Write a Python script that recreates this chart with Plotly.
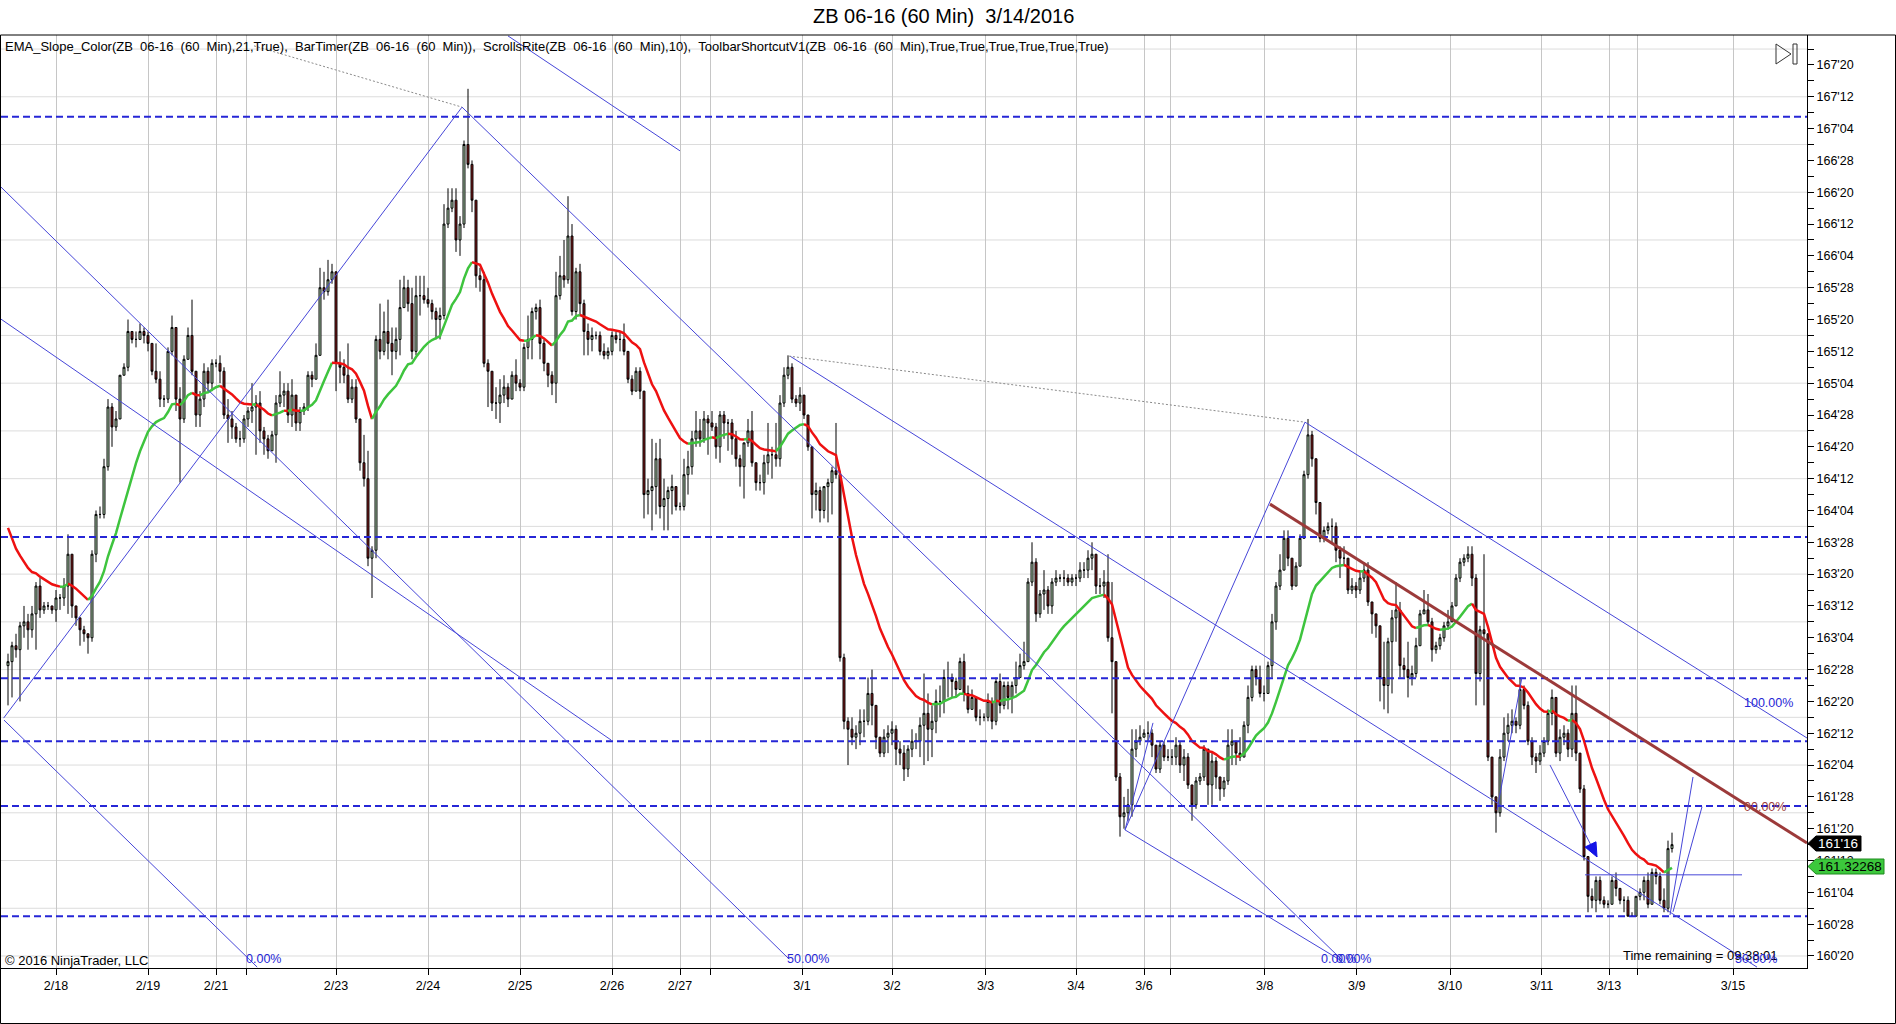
import plotly.graph_objects as go

# ZB 06-16, 60 minute bars (2/17 evening to 3/14 midday)
# prices are kept in 32nds above 160'00, e.g. 48 -> 161'16
closes = [
    94, 98, 97, 103, 104, 102, 106, 113, 107, 108, 108, 107, 110, 110, 113, 121, 108, 105, 102, 101,
    100, 121, 131, 131, 143, 158, 153, 155, 166, 168, 177, 175, 175, 177, 176, 174, 167, 165, 160, 160,
    172, 178, 160, 155, 170, 176, 167, 156, 160, 167, 164, 169, 169, 167, 156, 155, 153, 150, 150, 155,
    157, 158, 159, 152, 150, 147, 151, 159, 161, 162, 156, 161, 154, 157, 158, 166, 165, 171, 188, 187,
    190, 192, 169, 168, 166, 160, 163, 155, 144, 140, 120, 122, 175, 172, 177, 174, 172, 175, 183, 188,
    184, 172, 186, 186, 185, 184, 182, 180, 181, 204, 208, 210, 200, 204, 224, 219, 210, 191, 190, 169,
    167, 159, 159, 161, 163, 160, 166, 164, 163, 173, 175, 182, 183, 174, 169, 166, 164, 186, 191, 190,
    201, 182, 192, 184, 177, 175, 176, 176, 172, 171, 172, 176, 175, 175, 172, 165, 162, 167, 162, 136,
    137, 138, 145, 133, 135, 137, 138, 133, 133, 141, 143, 150, 152, 150, 155, 154, 153, 148, 156, 154,
    154, 150, 145, 143, 149, 152, 144, 139, 139, 144, 146, 146, 145, 159, 166, 168, 160, 159, 161, 156,
    148, 136, 137, 132, 138, 139, 142, 141, 95, 79, 77, 75, 76, 79, 79, 86, 83, 75, 71, 75,
    76, 77, 72, 71, 67, 72, 74, 74, 78, 81, 77, 79, 84, 84, 90, 90, 89, 87, 94, 86,
    82, 85, 80, 80, 80, 84, 79, 89, 83, 88, 85, 88, 90, 93, 94, 114, 119, 106, 111, 112,
    108, 114, 115, 115, 115, 114, 115, 115, 117, 117, 120, 121, 113, 113, 114, 100, 94, 65, 55, 56,
    58, 72, 74, 75, 76, 76, 73, 67, 73, 70, 70, 70, 73, 68, 70, 63, 58, 64, 65, 72,
    63, 69, 65, 62, 64, 73, 74, 71, 70, 78, 85, 92, 90, 86, 86, 93, 104, 113, 117, 125,
    120, 113, 118, 125, 141, 151, 145, 134, 125, 127, 128, 128, 122, 120, 120, 112, 113, 112, 115, 117,
    109, 106, 103, 90, 88, 99, 105, 107, 93, 92, 90, 91, 98, 106, 107, 104, 97, 98, 100, 103,
    104, 108, 115, 119, 120, 121, 115, 91, 102, 101, 70, 60, 56, 70, 76, 78, 79, 78, 87, 83,
    74, 70, 69, 71, 74, 81, 85, 71, 75, 76, 72, 81, 71, 62, 45, 35, 34, 39, 34, 33,
    33, 39, 37, 34, 34, 30, 30, 35, 36, 39, 33, 41, 40, 34, 32, 47, 48,
]
highs = [
    96, 99, 101, 104, 108, 106, 108, 114, 115, 109, 109, 108, 112, 111, 115, 126, 121, 108, 105, 103,
    101, 122, 132, 133, 145, 160, 159, 157, 166, 169, 180, 177, 177, 179, 178, 177, 174, 174, 167, 161,
    173, 181, 178, 163, 171, 178, 185, 167, 162, 169, 168, 170, 170, 171, 168, 160, 157, 154, 152, 156,
    158, 164, 161, 162, 153, 151, 152, 161, 167, 164, 164, 165, 160, 158, 159, 167, 167, 174, 193, 192,
    195, 194, 192, 172, 170, 174, 165, 165, 155, 151, 147, 123, 176, 184, 182, 185, 178, 178, 190, 191,
    190, 188, 191, 191, 191, 188, 185, 183, 183, 209, 213, 213, 213, 206, 225, 238, 220, 209, 193, 192,
    170, 167, 163, 165, 166, 164, 167, 170, 165, 174, 181, 183, 184, 185, 175, 169, 167, 192, 196, 200,
    211, 204, 193, 194, 185, 179, 178, 177, 177, 174, 173, 177, 177, 177, 179, 172, 166, 168, 168, 162,
    140, 150, 149, 150, 140, 138, 141, 137, 134, 145, 147, 152, 157, 155, 157, 156, 157, 154, 157, 157,
    155, 155, 152, 146, 149, 155, 157, 144, 141, 146, 154, 148, 154, 161, 168, 171, 169, 161, 163, 161,
    156, 148, 139, 138, 138, 140, 143, 154, 142, 96, 80, 80, 78, 82, 82, 90, 92, 83, 75, 77,
    78, 79, 78, 74, 73, 73, 77, 76, 80, 91, 86, 83, 87, 88, 92, 94, 91, 90, 95, 96,
    88, 87, 84, 82, 81, 86, 85, 90, 91, 89, 89, 89, 94, 96, 99, 115, 124, 120, 112, 117,
    113, 115, 117, 116, 117, 116, 116, 116, 119, 119, 122, 124, 121, 115, 117, 121, 114, 94, 66, 60,
    62, 77, 77, 78, 77, 79, 77, 73, 74, 74, 72, 72, 75, 74, 72, 71, 63, 65, 66, 73,
    72, 71, 70, 65, 65, 77, 77, 73, 75, 79, 88, 93, 93, 93, 88, 94, 106, 114, 121, 127,
    127, 120, 119, 126, 142, 155, 152, 143, 134, 128, 129, 130, 129, 123, 123, 120, 115, 114, 117, 119,
    119, 108, 106, 101, 99, 100, 107, 114, 109, 95, 99, 93, 100, 107, 112, 111, 105, 99, 101, 104,
    107, 109, 116, 120, 121, 123, 123, 116, 103, 121, 101, 70, 59, 72, 80, 81, 82, 80, 90, 88,
    84, 75, 71, 73, 75, 82, 87, 85, 77, 78, 77, 88, 88, 71, 63, 45, 37, 40, 40, 35,
    34, 40, 41, 37, 35, 35, 31, 35, 37, 40, 41, 42, 42, 41, 37, 49, 51,
]
lows = [
    83, 85, 95, 84, 100, 97, 100, 97, 105, 106, 107, 106, 104, 107, 108, 106, 105, 103, 98, 99,
    96, 99, 119, 130, 130, 142, 148, 152, 157, 166, 167, 174, 173, 175, 174, 172, 166, 164, 158, 158,
    159, 171, 157, 139, 154, 170, 166, 153, 153, 158, 162, 162, 168, 164, 155, 149, 150, 149, 148, 149,
    153, 154, 146, 149, 146, 145, 147, 144, 158, 158, 154, 153, 152, 152, 156, 157, 163, 165, 171, 185,
    186, 189, 162, 164, 164, 159, 159, 154, 142, 138, 118, 110, 120, 170, 171, 170, 166, 170, 171, 183,
    182, 170, 171, 181, 184, 183, 180, 175, 175, 180, 203, 207, 197, 196, 203, 218, 207, 188, 187, 168,
    158, 157, 155, 154, 159, 158, 160, 162, 162, 162, 170, 170, 180, 170, 167, 163, 161, 159, 185, 188,
    189, 181, 180, 181, 171, 171, 172, 175, 171, 170, 170, 171, 174, 172, 171, 164, 161, 162, 160, 130,
    131, 127, 131, 130, 127, 127, 131, 132, 132, 132, 136, 141, 148, 148, 149, 146, 152, 145, 144, 150,
    147, 146, 143, 138, 135, 148, 143, 137, 137, 136, 141, 140, 143, 143, 158, 165, 159, 158, 157, 155,
    147, 130, 132, 129, 130, 129, 131, 140, 94, 77, 68, 73, 72, 73, 75, 78, 78, 72, 70, 70,
    71, 73, 68, 68, 64, 65, 70, 72, 70, 68, 69, 70, 76, 80, 81, 85, 85, 85, 87, 84,
    81, 82, 79, 78, 79, 79, 77, 78, 81, 82, 82, 81, 86, 91, 92, 94, 113, 104, 105, 107,
    106, 106, 113, 114, 113, 113, 113, 113, 114, 115, 115, 117, 111, 111, 110, 99, 81, 64, 50, 52,
    54, 55, 70, 73, 75, 74, 70, 66, 66, 69, 69, 68, 68, 66, 64, 62, 54, 57, 63, 64,
    58, 58, 62, 59, 60, 63, 68, 68, 69, 70, 76, 84, 88, 85, 84, 89, 90, 102, 112, 117,
    118, 112, 113, 118, 125, 140, 143, 131, 124, 124, 126, 124, 119, 115, 118, 111, 111, 110, 111, 114,
    108, 101, 100, 84, 82, 81, 86, 99, 90, 90, 85, 88, 90, 98, 106, 103, 94, 96, 97, 99,
    102, 104, 108, 114, 118, 119, 113, 83, 89, 83, 69, 58, 51, 55, 69, 74, 76, 76, 77, 82,
    73, 68, 66, 68, 70, 73, 78, 70, 69, 73, 70, 70, 69, 61, 44, 31, 32, 31, 33, 32,
    32, 35, 35, 33, 31, 30, 30, 30, 34, 34, 32, 35, 38, 33, 31, 31, 46,
]
first_open = 93
ema_seed = 131      # EMA level carried in from bars left of the chart
EMA_PERIOD = 21

# date ticks on the bar axis, '' = tick + grid line without a label
date_ticks = [12, 35, 52, 59.5, 82, 105, 128, 151, 168, 175.5, 198.5, 221, 244.4, 267,
              284, 290.5, 314.2, 337.2, 360.5, 383.4, 400.25, 407.25, 431.25]
date_labels = ['2/18', '2/19', '2/21', '', '2/23', '2/24', '2/25', '2/26', '2/27', '', '3/1', '3/2',
               '3/3', '3/4', '3/6', '', '3/8', '3/9', '3/10', '3/11', '3/13', '', '3/15']

# drawn objects, all in (bar, 32nds)
levels = [231, 125.3, 89.8, 74, 57.7, 30]
trend_lines = [
    (-1.1, 79.8, 113.5, 233.4),
    (-1.0, 79.3, 62.3, 17.2),
    (-1.75, 213.3, 195.3, 19.2),
    (-1.75, 180.1, 150.75, 74.3),
    (125.0, 251.3, 168.0, 222.4),
    (113.5, 233.4, 333.5, 19.0),
    (195.5, 170.8, 437.25, 17.2),
    (324.25, 154.2, 449.75, 74.8),
    (279.25, 51.7, 324.25, 154.2),
    (279.25, 51.7, 333.5, 18.7),
    (279.25, 51.7, 286.25, 78.6),
    (372.25, 56.7, 378.5, 90.1),
    (385.5, 68.0, 397.25, 44.9),
    (394.25, 40.4, 433.5, 40.4),
    (415.5, 30.3, 421.25, 65.0),
    (416.25, 31.1, 423.5, 57.5),
]
dotted_lines = [
    (61.5, 248.8, 113.5, 233.4),
    (195.25, 170.8, 324.25, 154.2),
]
resistance = (315.5, 133.6, 449.75, 48.4)
arrow = [(394.25, 47.4), (397.0, 48.7), (397.25, 44.9)]

BLUE = '#2626d6'
THIN_BLUE = '#4646d8'
BROWN = '#9c3a3a'
fib_labels = [
    (59.0, 19.3, '0.00%', BLUE),
    (194.25, 19.3, '50.00%', BLUE),
    (327.75, 19.3, '0.00%', BLUE),
    (331.5, 19.3, '0.00%', BLUE),
    (433.5, 83.6, '100.00%', BLUE),
    (433.5, 57.5, '00.00%', BROWN),
    (431.25, 19.3, '50.00%', BLUE),
]

FONT = 'Liberation Sans, Arial, sans-serif'
W, H = 1896, 1024
ML, MR, MT, MB = 1, 89, 35, 56
PW, PH = W - ML - MR, H - MT - MB


def price(t):
    return 160 + t / 32.0


def fmt32(t):
    return "%d'%02d" % (160 + t // 32, t % 32)


def px(x):
    return (x - ML) / PW


def py(y):
    return (H - MB - y) / PH


n = len(closes)
bars = list(range(n))
opens = [first_open] + closes[:-1]
hi = [max(h, o, c) for h, o, c in zip(highs, opens, closes)]
lo = [min(l, o, c) for l, o, c in zip(lows, opens, closes)]

fig = go.Figure()
fig.add_trace(go.Candlestick(
    x=bars,
    open=[price(v) for v in opens], high=[price(v) for v in hi],
    low=[price(v) for v in lo], close=[price(v) for v in closes],
    increasing=dict(line=dict(color='black', width=1), fillcolor='#bfe6bf'),
    decreasing=dict(line=dict(color='black', width=1), fillcolor='#8e1b1b'),
    hoverinfo='skip', showlegend=False,
))

# EMA coloured by slope
ema = []
level = ema_seed
for c in closes:
    level += (c - level) * 2.0 / (EMA_PERIOD + 1)
    ema.append(level)

runs = []
for i in range(1, n):
    col = '#3ec43e' if ema[i] >= ema[i - 1] else '#ee1111'
    if runs and runs[-1][0] == col:
        runs[-1][1].append(i)
    else:
        runs.append([col, [i - 1, i]])
for col, idx in runs:
    fig.add_trace(go.Scatter(x=idx, y=[price(ema[k]) for k in idx], mode='lines',
                             line=dict(color=col, width=2.5), hoverinfo='skip', showlegend=False))

shapes = []
# horizontal grid every 12/32
for t in range(20, 252, 12):
    shapes.append(dict(type='line', xref='paper', x0=0, x1=1, yref='y', y0=price(t), y1=price(t),
                       line=dict(color='#dcdcdc', width=1), layer='below'))
for t in levels:
    shapes.append(dict(type='line', xref='paper', x0=0, x1=1, yref='y', y0=price(t), y1=price(t),
                       line=dict(color=BLUE, width=2, dash='7px,4px')))
for b0, t0, b1, t1 in trend_lines:
    shapes.append(dict(type='line', xref='x', yref='y', x0=b0, y0=price(t0), x1=b1, y1=price(t1),
                       line=dict(color=THIN_BLUE, width=1)))
for b0, t0, b1, t1 in dotted_lines:
    shapes.append(dict(type='line', xref='x', yref='y', x0=b0, y0=price(t0), x1=b1, y1=price(t1),
                       line=dict(color='#8a8a8a', width=1, dash='2px,2px')))
b0, t0, b1, t1 = resistance
shapes.append(dict(type='line', xref='x', yref='y', x0=b0, y0=price(t0), x1=b1, y1=price(t1),
                   line=dict(color=BROWN, width=3)))
shapes.append(dict(type='path', xref='x', yref='y', fillcolor='#1414e6', line=dict(color='#1414e6', width=1),
                   path='M %s,%s L %s,%s L %s,%s Z' % (arrow[0][0], price(arrow[0][1]), arrow[1][0],
                                                       price(arrow[1][1]), arrow[2][0], price(arrow[2][1]))))

# outer frame and right side price boxes (pixel positions on the page)
shapes.append(dict(type='rect', xref='paper', yref='paper', x0=px(0.5), x1=px(1895.5), y0=py(1023.5), y1=py(35),
                   line=dict(color='black', width=1)))


def tag(y0, y1, x1, fill, edge):
    ym = (y0 + y1) / 2
    return dict(type='path', xref='paper', yref='paper', fillcolor=fill, line=dict(color=edge, width=1),
                path='M %f,%f L %f,%f L %f,%f L %f,%f L %f,%f Z' % (
                    px(1808), py(ym), px(1816), py(y0), px(x1), py(y0), px(x1), py(y1), px(1816), py(y1)))


shapes.append(tag(836, 851, 1861, 'black', 'black'))
shapes.append(tag(859, 874, 1884, '#3cc83c', '#1f8a1f'))
# scroll-to-end icon
shapes.append(dict(type='path', xref='paper', yref='paper', line=dict(color='#333333', width=1),
                   path='M %f,%f L %f,%f L %f,%f Z' % (px(1776), py(44), px(1791), py(54), px(1776), py(64))))
shapes.append(dict(type='rect', xref='paper', yref='paper', x0=px(1793), x1=px(1797), y0=py(64), y1=py(44),
                   line=dict(color='#333333', width=1)))

legend_text = ('EMA_Slope_Color(ZB  06-16  (60  Min),21,True),  BarTimer(ZB  06-16  (60  Min)),  '
               'ScrollsRite(ZB  06-16  (60  Min),10),  ToolbarShortcutV1(ZB  06-16  (60  Min),'
               'True,True,True,True,True,True)').replace(' ', '\u00a0')

annotations = [
    dict(text='ZB 06-16 (60 Min)\u00a0\u00a03/14/2016', x=px(943), y=py(16), xref='paper', yref='paper',
         showarrow=False, xanchor='center', yanchor='middle', font=dict(size=20, color='black')),
    dict(text=legend_text, x=px(3), y=py(47), xref='paper', yref='paper', showarrow=False,
         xanchor='left', yanchor='middle', font=dict(size=13, color='black')),
    dict(text='\u00a9 2016 NinjaTrader, LLC', x=px(3), y=py(960), xref='paper', yref='paper',
         showarrow=False, xanchor='left', yanchor='middle', font=dict(size=13, color='black')),
    dict(text='Time remaining = 09:38:01', x=px(1621), y=py(955), xref='paper', yref='paper',
         showarrow=False, xanchor='left', yanchor='middle', font=dict(size=13, color='black')),
    dict(text="161'16", x=px(1838), y=py(843.5), xref='paper', yref='paper', showarrow=False,
         xanchor='center', yanchor='middle', font=dict(size=13.5, color='white')),
    dict(text='161.32268', x=px(1850), y=py(866.5), xref='paper', yref='paper', showarrow=False,
         xanchor='center', yanchor='middle', font=dict(size=13.5, color='black')),
]
for b, t, txt, col in fib_labels:
    annotations.append(dict(text=txt, x=b, y=price(t), xref='x', yref='y', showarrow=False,
                            xanchor='left', yanchor='middle', font=dict(size=12.5, color=col)))

ytick_t = list(range(20, 252, 4))
fig.update_layout(
    width=W, height=H, margin=dict(l=ML, r=MR, t=MT, b=MB, pad=0),
    paper_bgcolor='white', plot_bgcolor='white',
    font=dict(family=FONT, color='black'),
    hovermode=False, showlegend=False,
    shapes=shapes, annotations=annotations,
    xaxis=dict(range=[-1.75, 449.75], tickvals=date_ticks, ticktext=date_labels, ticks='outside',
               ticklen=6, tickcolor='black', showline=True, linecolor='black', linewidth=1,
               showgrid=True, gridcolor='#c6c6c6', gridwidth=1, zeroline=False,
               rangeslider=dict(visible=False), tickfont=dict(size=12.5)),
    yaxis=dict(side='right', range=[price(16.98), price(251.53)], tickvals=[price(t) for t in ytick_t],
               ticktext=[fmt32(t) if (t - 20) % 8 == 0 else '' for t in ytick_t], ticks='outside',
               ticklen=6, tickcolor='black', showline=True, linecolor='black', linewidth=1,
               showgrid=False, zeroline=False, tickfont=dict(size=12.5)),
)

fig.write_html("out.html", config={'displayModeBar': False},
               post_script="document.body.style.margin='0';document.body.style.overflow='hidden';")
